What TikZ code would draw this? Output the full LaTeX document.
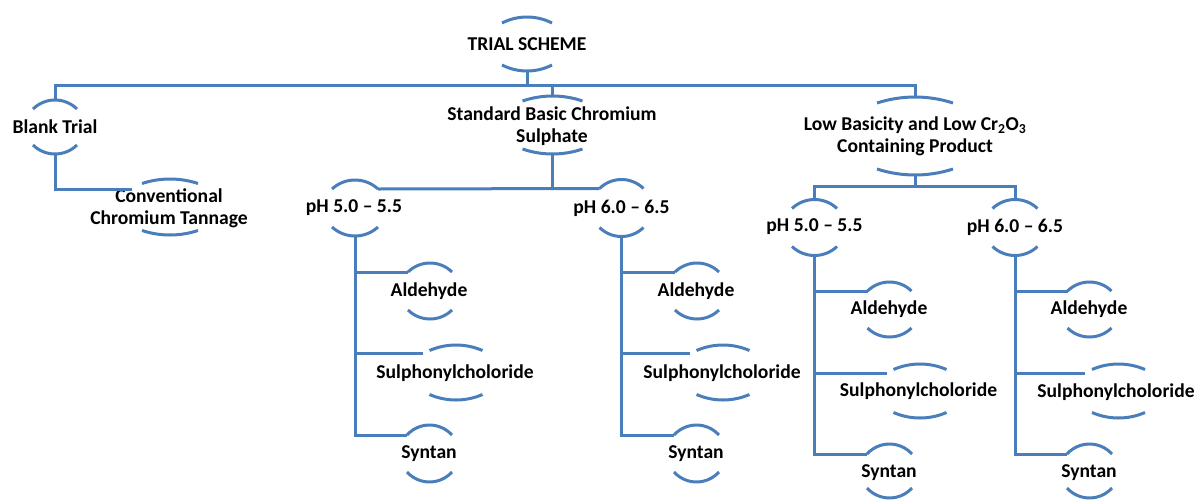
\documentclass[tikz,border=0pt]{standalone}
\usepackage{fontspec}
\setmainfont{Carlito}
\definecolor{brblue}{HTML}{4A7EBB}
\tikzset{
  br/.style={draw=brblue, line width=3pt},
  conn/.style={draw=brblue, line width=3pt, line join=miter},
  lbl/.style={font=\fontsize{19.6}{22}\selectfont\bfseries, align=center, inner sep=0pt, text=black}
}
% #1 name, #2 text x, #3 text y, #4 arc centre x, #5 top arc peak y, #6 bottom arc peak y, #7 half width, #8 sagitta, #9 text
\newcommand\bnode[9]{%
  \node[lbl] (#1) at (#2,#3) {#9};
  \coordinate (#1-t) at (#4,#5);
  \coordinate (#1-b) at (#4,#6);
  \coordinate (#1-l) at ({#4-#7},{#5+#8});
  \coordinate (#1-r) at ({#4+#7},{#5+#8});
  \pgfmathsetmacro\brR{(#7*#7+#8*#8)/(2*#8)}%
  \pgfmathsetmacro\brA{asin(#7/\brR)}%
  \draw[br] (#1-l) arc[start angle={270-\brA}, end angle={270+\brA}, radius=\brR];
  \draw[br] ({#4-#7},{#6-#8}) arc[start angle={90+\brA}, end angle={90-\brA}, radius=\brR];
}
\begin{document}
\begin{tikzpicture}[x=1pt, y=-1pt]
\useasboundingbox (0,0) rectangle (1203,499);
% top levels
\bnode{trial}{527}{44}{527}{17}{71}{25}{6}{TRIAL SCHEME}
\bnode{blank}{55}{127}{55}{100}{154}{22}{9}{Blank Trial}
\bnode{conv}{169}{208.5}{170}{179}{235}{28}{4.5}{Conventional\\Chromium Tannage}
\bnode{std}{552}{126}{552.5}{96}{154}{30}{5}{Standard Basic Chromium\\Sulphate}
\bnode{low}{915}{136}{915}{97}{175}{38}{6}{Low Basicity and Low Cr\textsubscript{2}O\textsubscript{3}\\Containing Product}
% pH nodes
\bnode{s5}{354}{208}{355}{180}{236}{23}{9}{pH 5.0 – 5.5}
\bnode{s6}{621.5}{208}{621.5}{179.5}{236.5}{22}{9}{pH 6.0 – 6.5}
\bnode{l5}{814.5}{227}{814.5}{199.5}{255.5}{22.5}{9}{pH 5.0 – 5.5}
\bnode{l6}{1015}{227}{1015}{199.5}{255.5}{22.5}{9}{pH 6.0 – 6.5}
% leaves
\bnode{a1}{429}{291}{430}{263}{319}{22}{9}{Aldehyde}
\bnode{b1}{455}{373}{456}{345}{400}{26.5}{5.5}{Sulphonylcholoride}
\bnode{c1}{429}{454}{429.5}{425}{482}{22.5}{10}{Syntan}
\bnode{a2}{696}{291}{697}{263}{319}{22}{9}{Aldehyde}
\bnode{b2}{722}{373}{723}{345}{400}{26.5}{5.5}{Sulphonylcholoride}
\bnode{c2}{696}{454}{696.5}{425}{482}{22.5}{10}{Syntan}
\bnode{a3}{889}{309}{889.5}{282}{337}{22}{9}{Aldehyde}
\bnode{b3}{918.5}{391}{920}{364}{418}{26.5}{5.5}{Sulphonylcholoride}
\bnode{c3}{889}{473}{889.5}{444}{498}{22.5}{10}{Syntan}
\bnode{a4}{1089}{309}{1089.5}{282}{337}{22}{9}{Aldehyde}
\bnode{b4}{1116}{392}{1118.5}{364}{418}{26.5}{5.5}{Sulphonylcholoride}
\bnode{c4}{1089}{473}{1089.5}{444}{498}{22.5}{10}{Syntan}
% connector end points
\coordinate (j0) at (527,85.5);
\coordinate (conv-c) at (132,189);
\coordinate (j1) at (552.5,189.5);
\coordinate (j3) at (915,186);
\coordinate (b1-c) at (423,353);
\coordinate (b2-c) at (690,353);
\coordinate (b3-c) at (887,373);
\coordinate (b4-c) at (1085,373);
% connectors
\draw[conn] (trial-b) -- (j0);
\draw[conn] (blank-t) |- (j0) -| (low-t);
\draw[conn] (j0) -| (std-t);
\draw[conn] (blank-b) |- (conv-c);
\draw[conn] (std-b) -- (j1);
\draw[conn] (s5-r) -- (s6-l);
\draw[conn] (low-b) -- (j3);
\draw[conn] (l5-t) |- (j3) -| (l6-t);
\draw[conn] (s5-b) |- (a1-l);
\draw[conn] (s5-b) |- (b1-c);
\draw[conn] (s5-b) |- (c1-l);
\draw[conn] (s6-b) |- (a2-l);
\draw[conn] (s6-b) |- (b2-c);
\draw[conn] (s6-b) |- (c2-l);
\draw[conn] (l5-b) |- (a3-l);
\draw[conn] (l5-b) |- (b3-c);
\draw[conn] (l5-b) |- (c3-l);
\draw[conn] (l6-b) |- (a4-l);
\draw[conn] (l6-b) |- (b4-c);
\draw[conn] (l6-b) |- (c4-l);
\end{tikzpicture}
\end{document}
